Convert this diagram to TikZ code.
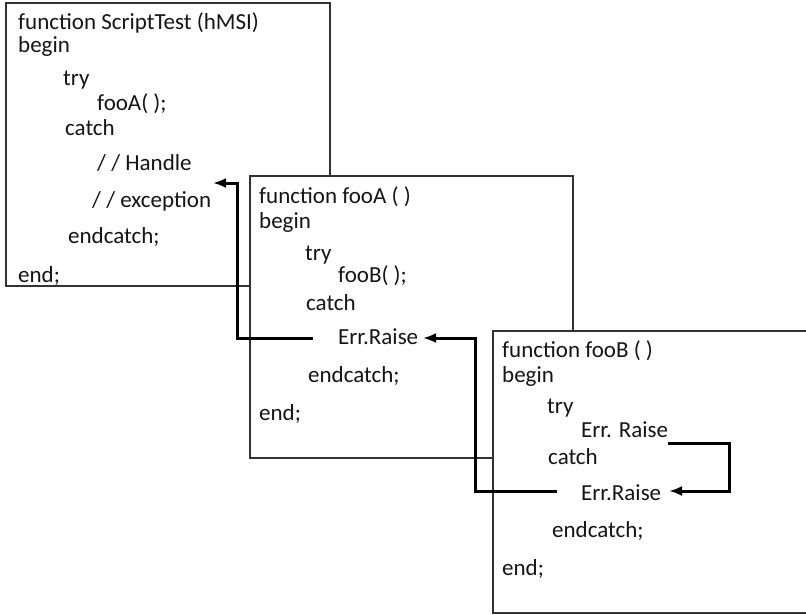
\documentclass[tikz,border=0pt]{standalone}
\usepackage{fontspec}
\setmainfont{Carlito}
\usetikzlibrary{arrows.meta,positioning}
\definecolor{CodeInk}{HTML}{151515}
\definecolor{FrameGrey}{HTML}{333333}

\begin{document}
\begin{tikzpicture}[x=1pt,y=-1pt,
    codebox/.style={draw=FrameGrey,fill=white,line width=1.4pt},
    codeline/.style={anchor=base west,inner sep=0pt,text=CodeInk,
      font=\fontsize{23}{26}\selectfont},
    raisepath/.style={-{Latex[length=13pt,width=10pt]},line width=3pt,
      line join=miter}]
  \clip (0,0) rectangle (806,614);
  \fill[white] (0,0) rectangle (806,614);

  % ScriptTest frame
  \draw[codebox] (6,3) rectangle (330,286);
  \node[codeline] (sHead) at (18,29) {function ScriptTest (hMSI)};
  \node[codeline] (sBegin) at (18,52) {begin};
  \node[codeline] (sTry) at (63,85) {try};
  \node[codeline] (sCall) at (97,110) {fooA( );};
  \node[codeline] (sCatch) at (65,135) {catch};
  \node[codeline] (sHandle) at (97,170) {/ / Handle};
  \node[codeline] (sException) at (92,207) {/ / exception};
  \node[codeline] (sEndcatch) at (68,243) {endcatch;};
  \node[codeline] (sEnd) at (18,282) {end;};

  % fooA frame
  \draw[codebox] (250,176) rectangle (573,458);
  \node[codeline] (aHead) at (259,203) {function fooA ( )};
  \node[codeline] (aBegin) at (259,228) {begin};
  \node[codeline] (aTry) at (305,260) {try};
  \node[codeline] (aCall) at (338,282) {fooB( );};
  \node[codeline] (aCatch) at (306,310) {catch};
  \node[codeline] (aRaise) at (338,344) {Err.Raise};
  \node[codeline] (aEndcatch) at (308,382) {endcatch;};
  \node[codeline] (aEnd) at (259,420) {end;};

  % fooB frame
  \draw[codebox] (493,331) rectangle (812,613);
  \node[codeline] (bHead) at (502,357) {function fooB ( )};
  \node[codeline] (bBegin) at (502,382) {begin};
  \node[codeline] (bTry) at (547,413) {try};
  \node[codeline] (bTryRaise) at (581,437) {Err. Raise};
  \node[codeline] (bCatch) at (548,464) {catch};
  \node[codeline] (bRaise) at (581,500) {Err.Raise};
  \node[codeline] (bEndcatch) at (552,537) {endcatch;};
  \node[codeline] (bEnd) at (502,575) {end;};

  % where the raises leave and land
  \coordinate (sLand) at (213,183);
  \coordinate (aLeave) at (313,338);
  \coordinate (aLand) at (423,338);
  \coordinate (bLeave) at (557,491);
  \coordinate (bTryLeave) at (668,443);
  \coordinate (bLand) at (669,491);

  \draw[raisepath] (bTryLeave) -- ++(61,0) |- (bLand);
  \draw[raisepath] (bLeave) -- ++(-82,0) |- (aLand);
  \draw[raisepath] (aLeave) -- ++(-76,0) |- (sLand);
\end{tikzpicture}
\end{document}
